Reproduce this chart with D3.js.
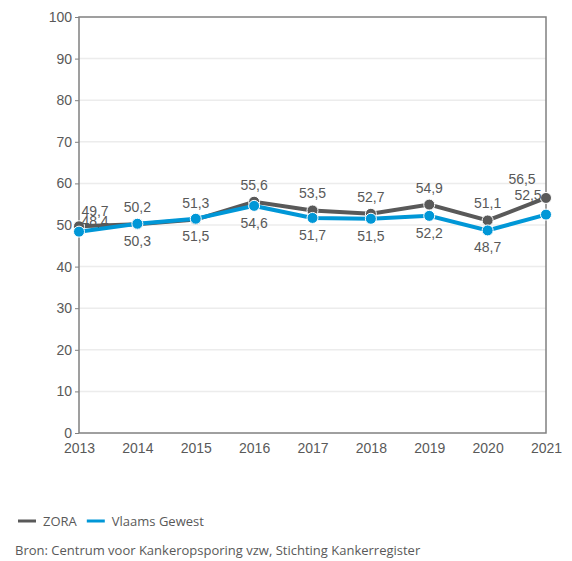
<!DOCTYPE html>
<html>
<head>
<meta charset="utf-8">
<script src="https://cdn.jsdelivr.net/npm/d3@7"></script>
<style>
  body { margin: 0; background: #fff; }
  svg text { font-family: "Liberation Sans", Arial, sans-serif; fill: #595959; }
</style>
</head>
<body>
<div class="chart"></div>
<script>
// categories and series
var years = [ 2013 , 2014 , 2015 , 2016 , 2017 , 2018 , 2019 , 2020 , 2021 ];
var zora = [ 49.7 , 50.2 , 51.3 , 55.6 , 53.5 , 52.7 , 54.9 , 51.1 , 56.5 ];
var vlaams = [ 48.4 , 50.3 , 51.5 , 54.6 , 51.7 , 51.5 , 52.2 , 48.7 , 52.5 ];
var yTicks = [ 0 , 10 , 20 , 30 , 40 , 50 , 60 , 70 , 80 , 90 , 100 ];

var W = 572 , H = 561;
var margin = { top: 17 , right: 26 , bottom: 128 , left: 79 };

var svg = d3.select( '.chart' ).append( 'svg' )
    .attr( 'width' , W )
    .attr( 'height' , H );

var x = d3.scalePoint().domain( years ).range( [ margin.left , W - margin.right ] );
var y = d3.scaleLinear().domain( [ 0 , 100 ] ).range( [ H - margin.bottom , margin.top ] );

// gridlines
svg.append( 'g' ).selectAll( 'line' )
    .data( yTicks.slice( 1 , -1 ) )
    .enter().append( 'line' )
        .attr( 'x1' , margin.left ).attr( 'x2' , W - margin.right )
        .attr( 'y1' , function( d ){ return y( d ) } )
        .attr( 'y2' , function( d ){ return y( d ) } )
        .attr( 'stroke' , '#ececec' )
        .attr( 'stroke-width' , 1.5 );

// frame around the plot
svg.append( 'rect' )
    .attr( 'x' , margin.left ).attr( 'y' , margin.top )
    .attr( 'width' , W - margin.right - margin.left )
    .attr( 'height' , y( 0 ) - y( 100 ) )
    .attr( 'fill' , 'none' )
    .attr( 'stroke' , '#808080' )
    .attr( 'stroke-width' , 1.5 );

// y axis
var yAxis = svg.append( 'g' )
    .attr( 'transform' , 'translate(' + margin.left + ',0)' )
    .call( d3.axisLeft( y ).tickValues( yTicks ).tickSize( 4 ).tickPadding( 3 ) );
yAxis.select( '.domain' ).remove();
yAxis.selectAll( 'line' ).attr( 'stroke' , '#808080' );
yAxis.selectAll( 'text' ).style( 'font-size' , '14px' ).attr( 'fill' , '#595959' );

// x axis
var xAxis = svg.append( 'g' )
    .attr( 'transform' , 'translate(0,' + y( 0 ) + ')' )
    .call( d3.axisBottom( x ).tickSize( 0 ).tickPadding( 10 ) );
xAxis.select( '.domain' ).remove();
xAxis.selectAll( 'text' ).style( 'font-size' , '14px' ).attr( 'fill' , '#595959' );

var series = [
    { name: 'ZORA' , values: zora , color: '#595959' , pos: 'above' },
    { name: 'Vlaams Gewest' , values: vlaams , color: '#0097d7' , pos: 'below' }
];

var line = d3.line()
    .x( function( d , i ){ return x( years[ i ] ) } )
    .y( function( d ){ return y( d ) } );

series.forEach( function( s , si ){
    svg.append( 'path' )
        .attr( 'd' , line( s.values ) )
        .attr( 'fill' , 'none' )
        .attr( 'stroke' , s.color )
        .attr( 'stroke-width' , 4 );

    svg.append( 'g' ).selectAll( 'circle' )
        .data( s.values )
        .enter().append( 'circle' )
            .attr( 'cx' , function( d , i ){ return x( years[ i ] ) } )
            .attr( 'cy' , function( d ){ return y( d ) } )
            .attr( 'r' , 5.5 )
            .attr( 'fill' , s.color )
            .attr( 'stroke' , '#fff' )
            .attr( 'stroke-width' , 1 );
});

// data labels (2013 and 2021 sit beside the point, as in the source chart)
series.forEach( function( s , si ){
    svg.append( 'g' ).selectAll( 'text' )
        .data( s.values )
        .enter().append( 'text' )
            .attr( 'x' , function( d , i ){
                if ( i === 0 ) return x( years[ i ] ) + 16;
                if ( i === years.length - 1 ) return x( years[ i ] ) - ( si === 0 ? 24 : 18 );
                return x( years[ i ] );
            })
            .attr( 'y' , function( d , i ){
                if ( i === 0 ) return y( d ) - ( si === 0 ? 10 : 6 );
                if ( i === years.length - 1 ) return si === 0 ? y( d ) - 14 : y( zora[ i ] ) + 2;
                return s.pos === 'above' ? y( d ) - 12 : y( d ) + 22;
            })
            .attr( 'text-anchor' , 'middle' )
            .style( 'font-size' , '14px' )
            .text( function( d ){ return d3.format( '.1f' )( d ).replace( '.' , ',' ) } );
});

// legend
var legend = svg.append( 'g' ).attr( 'transform' , 'translate(18,521)' );
var lx = 0;
series.forEach( function( s ){
    legend.append( 'line' )
        .attr( 'x1' , lx ).attr( 'x2' , lx + 18 )
        .attr( 'stroke' , s.color ).attr( 'stroke-width' , 3 );
    var t = legend.append( 'text' )
        .attr( 'x' , lx + 25 ).attr( 'y' , 4.5 )
        .style( 'font-size' , '13px' )
        .style( 'font-family' , '"Open Sans", sans-serif' )
        .text( s.name );
    lx += 25 + t.node().getComputedTextLength() + 10;
});

svg.append( 'text' )
    .attr( 'x' , 15 ).attr( 'y' , 555 )
    .style( 'font-size' , '13px' )
    .style( 'font-family' , '"Open Sans", sans-serif' )
    .text( 'Bron: Centrum voor Kankeropsporing vzw, Stichting Kankerregister' );
</script>
</body>
</html>
